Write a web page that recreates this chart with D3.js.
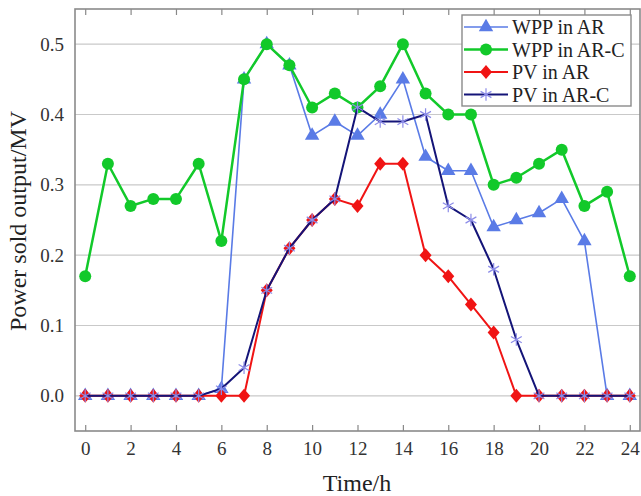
<!DOCTYPE html>
<html lang="en">
<head>
<meta charset="UTF-8">
<title>Power sold output</title>
<script src="https://cdn.jsdelivr.net/npm/d3@7"></script>
<style>
body,html{margin:0;padding:0;background:#fff;}
text{font-family:"Liberation Serif","Times New Roman",serif;}
</style>
</head>
<body>
<svg width="641" height="496"></svg>
<script>
// hours 0..24
const hours = d3.range(0, 25);
const wppAR  = [0,0,0,0,0,0,0.01,0.45,0.50,0.47,0.37,0.39,0.37,0.40,0.45,0.34,0.32,0.32,0.24,0.25,0.26,0.28,0.22,0,0];
const wppARC = [0.17,0.33,0.27,0.28,0.28,0.33,0.22,0.45,0.50,0.47,0.41,0.43,0.41,0.44,0.50,0.43,0.40,0.40,0.30,0.31,0.33,0.35,0.27,0.29,0.17];
const pvAR   = [0,0,0,0,0,0,0,0,0.15,0.21,0.25,0.28,0.27,0.33,0.33,0.20,0.17,0.13,0.09,0,0,0,0,0,0];
const pvARC  = [0,0,0,0,0,0,0.01,0.04,0.15,0.21,0.25,0.28,0.41,0.39,0.39,0.40,0.27,0.25,0.18,0.08,0,0,0,0,0];
const xTicks = d3.range(0, 25, 2);
const yTicks = [0, 0.1, 0.2, 0.3, 0.4, 0.5];
const seriesNames = ["WPP in AR", "WPP in AR-C", "PV in AR", "PV in AR-C"];

const series = [
  {name: seriesNames[0], values: wppAR,  color: "#5a7be6", width: 1.6, marker: "tri"},
  {name: seriesNames[1], values: wppARC, color: "#12c92a", width: 2.5, marker: "circle"},
  {name: seriesNames[2], values: pvAR,   color: "#f01414", width: 2,   marker: "diamond"},
  {name: seriesNames[3], values: pvARC,  color: "#141478", width: 2,   marker: "star"}
];

const svg = d3.select("svg");
const box = {left: 75, right: 640, top: 9, bottom: 431};

const x = d3.scaleLinear().domain([-0.45, 24.45]).range([box.left, box.right]);
const y = d3.scaleLinear().domain([-0.05, 0.55]).range([box.bottom, box.top]);

// grid
svg.append("g").selectAll("line").data(yTicks).join("line")
  .attr("x1", box.left).attr("x2", box.right)
  .attr("y1", d => y(d)).attr("y2", d => y(d))
  .attr("stroke", "#c9c9c9").attr("stroke-width", 1.2);

// axes: ticks inward
const xAxisB = d3.axisBottom(x).tickValues(xTicks).tickSize(-6).tickPadding(11).tickSizeOuter(0);
const xAxisT = d3.axisTop(x).tickValues(xTicks).tickSize(-6).tickFormat("").tickSizeOuter(0);
const yAxis = d3.axisLeft(y).tickValues(yTicks).tickSize(0).tickPadding(11).tickFormat(d3.format(".1f"));

function styleAxis(g) {
  g.select(".domain").remove();
  g.selectAll(".tick line").attr("stroke", "#888").attr("stroke-width", 1.2);
  g.selectAll(".tick text").attr("font-size", 19).attr("fill", "#333")
    .attr("font-family", "Liberation Serif, serif");
}
svg.append("g").attr("transform", `translate(0,${box.bottom})`).call(xAxisB).call(styleAxis);
svg.append("g").attr("transform", `translate(0,${box.top})`).call(xAxisT).call(styleAxis);
svg.append("g").attr("transform", `translate(${box.left},0)`).call(yAxis).call(styleAxis);

// frame
svg.append("rect").attr("x", box.left).attr("y", box.top)
  .attr("width", box.right - box.left).attr("height", box.bottom - box.top)
  .attr("fill", "none").attr("stroke", "#8a8a8a").attr("stroke-width", 1.6);

// lines + markers
const line = d3.line().x((d, i) => x(hours[i])).y(d => y(d));

function drawMarker(g, type, color, cx, cy) {
  if (type === "circle") {
    g.append("circle").attr("cx", cx).attr("cy", cy).attr("r", 6).attr("fill", color);
  } else if (type === "tri") {
    g.append("path").attr("d", d3.symbol(d3.symbolTriangle, 90)())
      .attr("transform", `translate(${cx},${cy})`).attr("fill", color);
  } else if (type === "diamond") {
    g.append("path").attr("d", "M0,-7L6,0L0,7L-6,0Z")
      .attr("transform", `translate(${cx},${cy})`).attr("fill", color);
  } else if (type === "star") {
    g.append("path").attr("d", d3.symbol(d3.symbolAsterisk, 110)())
      .attr("transform", `translate(${cx},${cy})`)
      .attr("fill", "none").attr("stroke", "#8c8ce8").attr("stroke-width", 1.2);
  }
}

series.forEach(s => {
  const g = svg.append("g");
  g.append("path").datum(s.values).attr("d", line)
    .attr("fill", "none").attr("stroke", s.color).attr("stroke-width", s.width)
    .attr("stroke-linejoin", "round");
  s.values.forEach((v, i) => drawMarker(g, s.marker, s.color, x(hours[i]), y(v)));
});

// legend
const lg = svg.append("g");
lg.append("rect").attr("x", 462).attr("y", 15).attr("width", 169).attr("height", 91)
  .attr("fill", "#fff").attr("stroke", "#8a8a8a").attr("stroke-width", 1.4);
series.forEach((s, i) => {
  const ly = 27 + i * 22.5;
  lg.append("line").attr("x1", 464).attr("x2", 508).attr("y1", ly).attr("y2", ly)
    .attr("stroke", s.color).attr("stroke-width", s.width);
  drawMarker(lg, s.marker, s.color, 486, ly);
  lg.append("text").attr("x", 512).attr("y", ly).attr("dy", "0.35em")
    .attr("font-size", 20).attr("fill", "#222").text(s.name);
});

// axis titles
svg.append("text").attr("x", 357).attr("y", 491).attr("text-anchor", "middle")
  .attr("font-size", 24).attr("fill", "#222").text("Time/h");
svg.append("text").attr("transform", "translate(26,221) rotate(-90)")
  .attr("text-anchor", "middle").attr("font-size", 24).attr("fill", "#222")
  .text("Power sold output/MV");
</script>
</body>
</html>
